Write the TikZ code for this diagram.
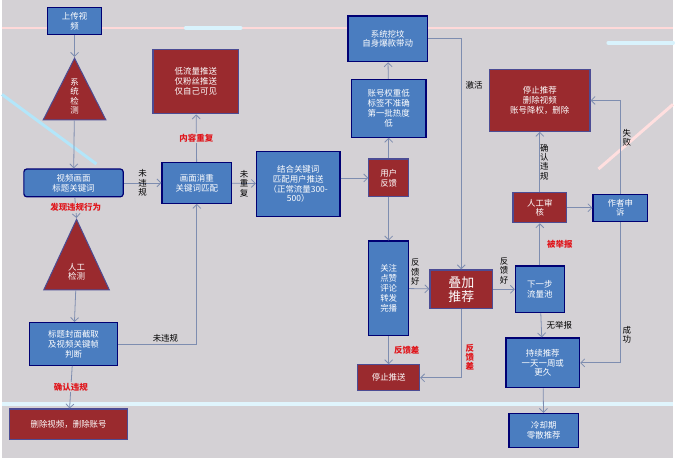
\documentclass[tikz,border=0pt]{standalone}
\usepackage{fontspec}
\setmainfont{Noto Sans CJK SC}
\usetikzlibrary{shapes.geometric,arrows.meta}
\definecolor{bgray}{HTML}{D4D1D5}
\definecolor{bblue}{HTML}{4A7DC0}
\definecolor{bred}{HTML}{9A2A2E}
\definecolor{edge}{HTML}{7E8DB0}
\definecolor{lred}{HTML}{E0161C}
\tikzstyle{bluebox} = [draw=blue!45!black,line width=1.2pt,fill=bblue,text=white,align=center,font=\fontsize{8.5}{10}\selectfont,inner sep=2pt]
\tikzstyle{redbox} = [bluebox,fill=bred,draw=black!60!blue!70]
\tikzstyle{tri} = [isosceles triangle,isosceles triangle stretches,shape border rotate=90,fill=bred,draw=black!60!blue!70,line width=1pt,text=white,align=center,inner sep=0pt,font=\fontsize{8.5}{9.5}\selectfont]
\tikzstyle{link} = [draw=edge,line width=0.8pt,-{Straight Barb[length=4pt]}]
\tikzstyle{lab} = [font=\fontsize{8.5}{9.5}\selectfont,align=center,inner sep=1pt]
\tikzstyle{rlab} = [lab,text=lred,font=\bfseries\fontsize{8.5}{9.5}\selectfont]

\begin{document}
\begin{tikzpicture}[x=1pt,y=-1pt]
  \fill[bgray] (0,0) rectangle (675,461);
  % decorative streaks
  \draw[pink!60,line width=1.5pt] (0,28) -- (675,28);
  \draw[cyan!15,line width=4pt,line cap=round] (185,28) -- (240,28);
  \draw[cyan!15,line width=4pt,line cap=round] (610,43) -- (675,43);
  \draw[cyan!12,line width=4pt] (0,406) -- (675,406);
  \draw[white!70!cyan,line width=3pt] (0,95) -- (95,165);
  \draw[pink!50,line width=3pt] (600,170) -- (675,105);

  \node[bluebox,minimum width=55,minimum height=27] (upload) at (73,21) {上传视\\频};
  \node[tri,minimum width=63,minimum height=62] (sysck) at (73,97) {系\\统\\检\\测};
  \node[bluebox,minimum width=100,minimum height=28,rounded corners=3pt] (vidkw) at (72,184) {视频画面\\标题关键词};
  \node[tri,minimum width=66,minimum height=71] (human) at (75,272) {\\人工\\检测};
  \node[bluebox,minimum width=89,minimum height=43,inner sep=1pt] (frame) at (72,346) {标题封面截取\\及视频关键帧\\判断};
  \node[redbox,minimum width=119,minimum height=31] (delacct) at (67,427) {删除视频，删除账号};

  \node[bluebox,minimum width=70,minimum height=41] (dedup) at (196,184) {画面消重\\关键词匹配};
  \node[redbox,minimum width=86,minimum height=65] (lowflow) at (195,82) {低流量推送\\仅粉丝推送\\仅自己可见};
  \node[bluebox,minimum width=84,minimum height=66,text width=80] (match) at (298,185) {结合关键词\\匹配用户推送\\（正常流量300-\\500）};

  \node[redbox,minimum width=40,minimum height=38] (userfb) at (389,179) {用户\\反馈};
  \node[bluebox,minimum width=75,minimum height=58] (lowwt) at (389,109) {账号权重低\\标签不准确\\第一批热度\\低};
  \node[bluebox,minimum width=80,minimum height=46] (sysdig) at (388,39) {系统挖坟\\自身爆款带动};
  \node[bluebox,minimum width=40,minimum height=95] (engage) at (389,290) {关注\\点赞\\评论\\转发\\完播};
  \node[redbox,minimum width=63,minimum height=39,font=\fontsize{13}{14}\selectfont] (boost) at (462,291) {叠加\\推荐};
  \node[redbox,minimum width=62,minimum height=26] (stoppush) at (389,380) {停止推送};

  \node[bluebox,minimum width=49,minimum height=47] (nextpool) at (541,291) {下一步\\流量池};
  \node[bluebox,minimum width=74,minimum height=50] (keeprec) at (544,365) {持续推荐\\一天一周或\\更久};
  \node[bluebox,minimum width=70,minimum height=34] (cooldown) at (545,433) {冷却期\\零散推荐};
  \node[redbox,minimum width=54,minimum height=30] (review) at (541,209) {人工审\\核};
  \node[redbox,minimum width=101,minimum height=62] (stoprec) at (541,101) {停止推荐\\删除视频\\账号降权，删除};
  \node[bluebox,minimum width=55,minimum height=27] (appeal) at (622,209) {作者申\\诉};

  \draw[link] (upload) -- (sysck.apex);
  \draw[link] (sysck) -- (vidkw);
  \draw[link] (vidkw) -- node[rlab,fill=bgray] {发现违规行为} (human.apex);
  \draw[link] (human) -- (frame);
  \draw[link] (frame) -- node[rlab,fill=bgray] {确认违规} (delacct);
  \draw[link] (frame.east) -- node[lab,above,pos=0.6] {未违规} (dedup.south |- frame.east) -- (dedup);
  \draw[link] (vidkw) -- node[lab] {未\\违\\规} (dedup);
  \draw[link] (dedup) -- node[rlab,fill=bgray] {内容重复} (lowflow);
  \draw[link] (dedup) -- node[lab] {未\\重\\复} (match);
  \draw[link] (match.east |- userfb) -- (userfb);
  \draw[link] (userfb) -- (lowwt);
  \draw[link] (lowwt) -- (sysdig);
  \draw[link] (userfb) -- (engage);
  \draw[link] (sysdig.east) -| node[lab,pos=0.6,right=3pt] {激活} (boost.north);
  \draw[link] (engage) -- node[lab,pos=0.3,above,yshift=2pt] {反\\馈\\好} (boost);
  \draw[link] (engage) -- node[rlab,right=4pt] {反馈差} (stoppush);
  \draw[link] (boost.south) |- node[rlab,pos=0.35,right=3pt] {反\\馈\\差} (stoppush.east);
  \draw[link] (boost) -- node[lab,above=4pt] {反\\馈\\好} (nextpool);
  \draw[link] (nextpool) -- node[lab,right=4pt] {无举报} (keeprec);
  \draw[link] (keeprec) -- (cooldown);
  \draw[link] (nextpool) -- node[rlab,right=6pt] {被举报} (review);
  \draw[link] (review) -- node[lab,right=-1pt] {确\\认\\违\\规} (stoprec);
  \draw[link] (review) -- (appeal);
  \draw[link] (appeal.north) |- node[lab,pos=0.3,right=1pt] {失\\败} (stoprec.east);
  \draw[link] (appeal.south) |- node[lab,pos=0.4,right=1pt] {成\\功} (keeprec.east);
\end{tikzpicture}
\end{document}
